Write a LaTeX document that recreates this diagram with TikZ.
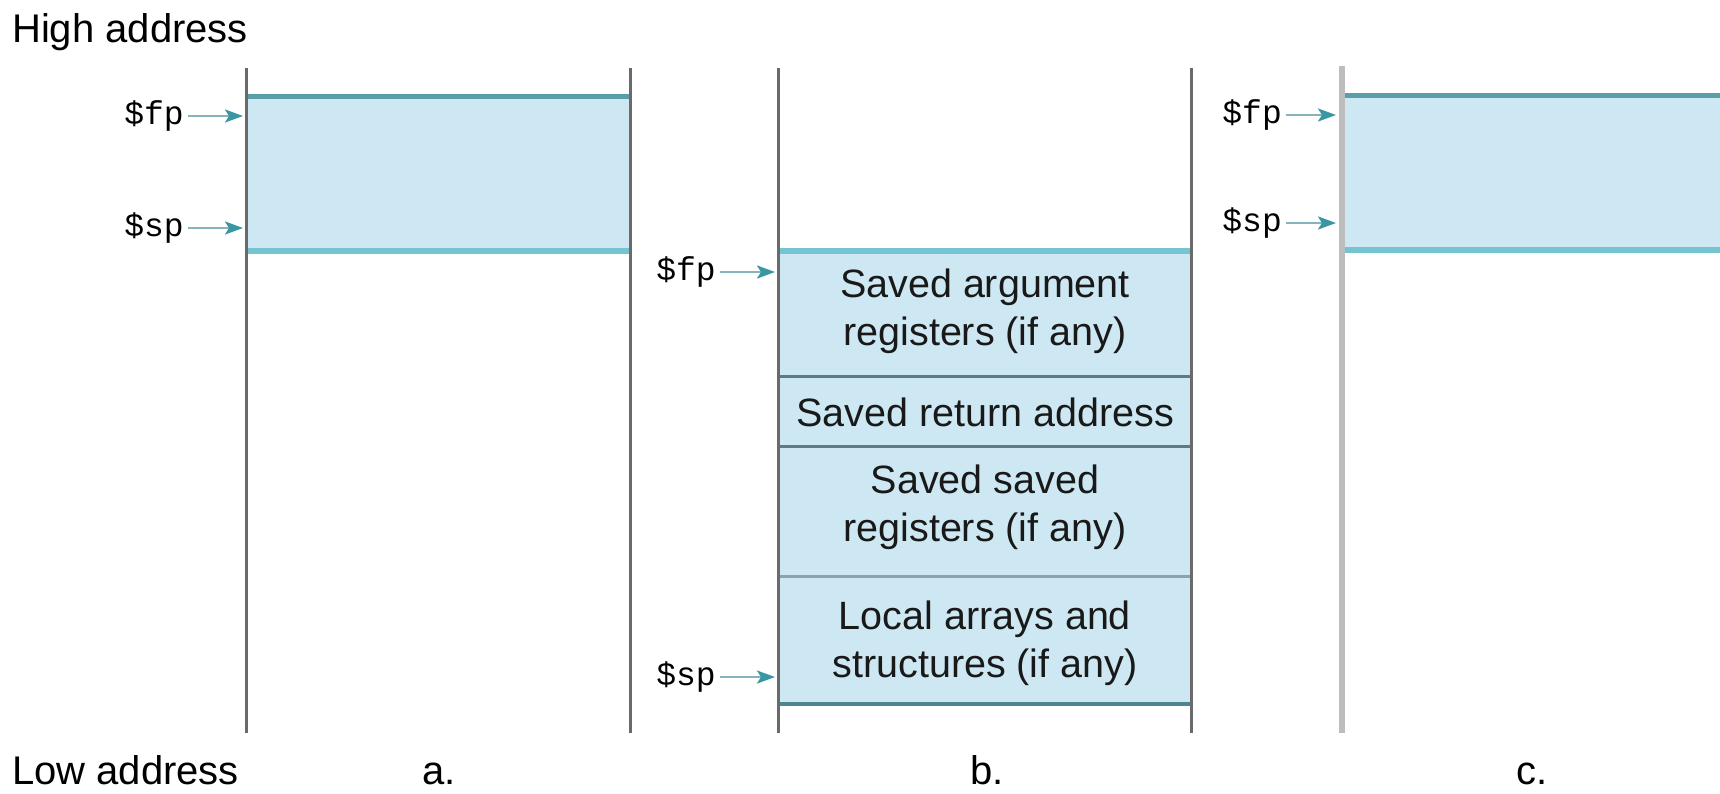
\documentclass[tikz,border=0pt]{standalone}
\usepackage{fontspec}
\setmainfont{Liberation Sans}
\setmonofont{Liberation Mono}
\usetikzlibrary{arrows.meta}
\definecolor{fillblue}{HTML}{CDE8F2}
\definecolor{tealdark}{HTML}{5A9EA8}
\definecolor{teallight}{HTML}{74C4D2}
\definecolor{linegray}{HTML}{6A6A6A}
\definecolor{lightgray}{HTML}{BDBDBD}
\definecolor{divgray}{HTML}{5E7A84}
\definecolor{arrowteal}{HTML}{3A96A2}
\definecolor{arrowline}{HTML}{86B4BA}
\begin{document}
\begin{tikzpicture}[x=1pt,y=-1pt,
  lbl/.style={font=\fontsize{40}{46}\selectfont, inner sep=0pt, anchor=base west},
  reg/.style={font=\ttfamily\fontsize{33}{33}\selectfont, inner sep=0pt, anchor=east},
  ptr/.style={draw=arrowline, line width=2.5pt, shorten <=4pt, shorten >=3pt,
    -{Stealth[length=18pt,width=13pt,inset=4pt,color=arrowteal]}},
  col/.style={draw=linegray, line width=3pt},
  cell/.style={font=\fontsize{39.5}{48}\selectfont, align=center, inner sep=0pt, text=black!90}
]
\useasboundingbox (0,0) rectangle (1720,793);

% ---- texts at sides
\node[lbl] (high) at (12,42) {High address};
\node[lbl] (low) at (12,784) {Low address};
\node[lbl] (capa) at (422,784) {a.};
\node[lbl] (capb) at (970,784) {b.};
\node[lbl] (capc) at (1516,784) {c.};

% ---- column a
\fill[fillblue] (246,96) rectangle (630,251);
\draw[tealdark, line width=5pt] (246,96) -- (630,96);
\draw[teallight, line width=6pt] (246,251) -- (630,251);
\draw[col] (246,68) -- (246,733);
\draw[col] (630,68) -- (630,733);
\node[reg] (fpa) at (184,116) {\$fp};
\node[reg] (spa) at (184,228) {\$sp};
\coordinate (fpa-t) at (246,116);
\coordinate (spa-t) at (246,228);
\draw[ptr] (fpa.east) -- (fpa-t);
\draw[ptr] (spa.east) -- (spa-t);

% ---- column b
\fill[fillblue] (778,251) rectangle (1191,704);
\draw[teallight, line width=6pt] (778,251) -- (1191,251);
\draw[divgray, line width=3pt] (778,376) -- (1191,376);
\draw[divgray, line width=3pt] (778,446) -- (1191,446);
\draw[divgray!70, line width=3pt] (778,576) -- (1191,576);
\draw[tealdark!85!black, line width=4.5pt] (778,704) -- (1191,704);
\draw[col] (778,68) -- (778,733);
\draw[col] (1191,68) -- (1191,733);
\node[cell] (c1) at (985,311) {Saved argument\\registers (if any)};
\node[cell] (c2) at (985,412) {Saved return address};
\node[cell] (c3) at (985,507) {Saved saved\\registers (if any)};
\node[cell] (c4) at (985,643) {Local arrays and\\structures (if any)};
\node[reg] (fpb) at (716,272) {\$fp};
\node[reg] (spb) at (716,677) {\$sp};
\coordinate (fpb-t) at (778,272);
\coordinate (spb-t) at (778,677);
\draw[ptr] (fpb.east) -- (fpb-t);
\draw[ptr] (spb.east) -- (spb-t);

% ---- column c
\fill[fillblue] (1342,95) rectangle (1720,250);
\draw[tealdark, line width=5pt] (1342,95) -- (1720,95);
\draw[teallight, line width=6pt] (1342,250) -- (1720,250);
\draw[lightgray, line width=6pt] (1342,66) -- (1342,733);
\node[reg] (fpc) at (1282,115) {\$fp};
\node[reg] (spc) at (1282,223) {\$sp};
\coordinate (fpc-t) at (1339,115);
\coordinate (spc-t) at (1339,223);
\draw[ptr] (fpc.east) -- (fpc-t);
\draw[ptr] (spc.east) -- (spc-t);
\end{tikzpicture}
\end{document}
